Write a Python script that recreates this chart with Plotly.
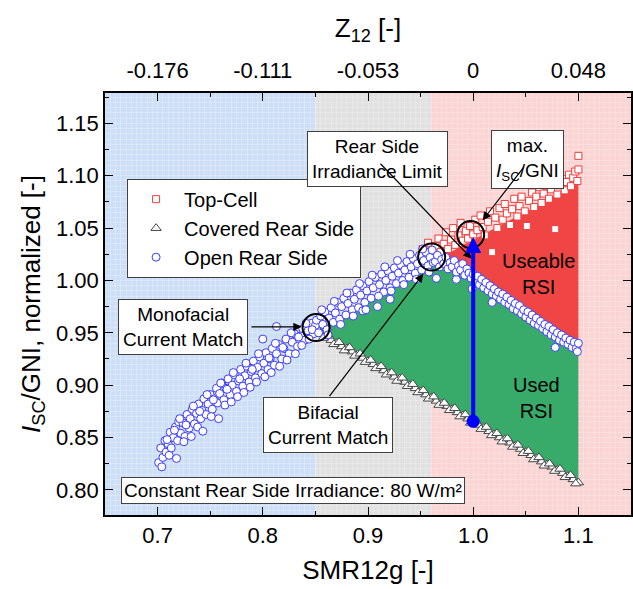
import plotly.graph_objects as go

# ---------------- data ----------------
# Open Rear Side (blue circles)
open_x = [0.701,0.703,0.705,0.707,0.708,0.710,0.712,0.713,0.715,0.717,0.719,0.720,0.722,0.724,0.726,0.728,0.730,0.731,0.733,0.735,
          0.737,0.739,0.741,0.742,0.744,0.746,0.748,0.750,0.752,0.754,0.756,0.757,0.759,0.761,0.763,0.765,0.767,0.769,0.771,0.773,
          0.775,0.777,0.779,0.781,0.783,0.785,0.787,0.789,0.791,0.793,0.795,0.797,0.799,0.801,0.803,0.805,0.807,0.809,0.811,0.813,
          0.815,0.818,0.820,0.822,0.825,0.828,0.830,0.833,0.836,0.838,0.840,0.843,0.846,0.848,0.850,0.813,0.800,
          0.704,0.709,0.711,0.716,0.718,0.721,0.725,0.727,0.732,0.734,0.738,0.740,0.743,0.747,0.751,0.753,0.758,0.760,0.764,0.766,
          0.770,0.772,0.776,0.778,0.782,0.784,0.788,0.790,0.794,0.796,0.802,0.806,0.808,0.812,0.816,0.819,0.823,0.827,0.831,0.834,
          0.837,0.841,0.844,0.847,
          0.851,0.853,0.855,0.857,0.859,0.861,0.863,0.865,0.867,0.869,0.871,0.873,0.875,0.877,0.879,0.881,0.883,0.885,0.887,0.889,
          0.891,0.893,0.895,0.897,0.899,0.901,0.903,0.905,0.907,0.909,0.911,0.913,0.915,0.917,0.919,0.921,0.923,0.925,0.927,0.929,
          0.931,0.933,0.935,0.937,0.939,0.941,0.943,0.945,0.947,0.949,0.951,0.953,0.955,0.957,0.959,0.961,0.962,0.921,0.895,0.965,0.984,
          0.856,0.862,0.868,0.874,0.880,0.886,0.892,0.898,0.904,0.910,0.916,0.922,0.928,0.934,0.940,0.946,0.952,0.958,
          0.964,0.966,0.968,0.970,0.972,0.974,0.976,0.978,0.980,0.982,0.984,0.986,0.988,0.990,0.992,0.994,0.996,0.998,1.000,1.002,
          1.004,1.006,1.008,1.010,1.012,1.014,1.016,1.018,1.020,1.022,1.024,1.026,1.028,1.030,1.032,1.034,1.036,1.038,1.040,1.042,
          1.044,1.046,1.048,1.050,1.052,1.054,1.056,1.058,1.060,1.062,1.064,1.066,1.068,1.070,1.072,1.074,1.076,1.078,1.080,1.082,
          1.084,1.086,1.088,1.090,1.092,1.094,1.096,1.098,1.100,1.099,1.018,1.078,0.999]
open_y = [0.826,0.840,0.831,0.847,0.836,0.844,0.855,0.840,0.850,0.860,0.847,0.865,0.854,0.864,0.851,0.872,0.859,0.868,0.877,0.863,
          0.873,0.882,0.868,0.876,0.887,0.872,0.882,0.891,0.877,0.887,0.897,0.883,0.892,0.902,0.886,0.897,0.906,0.891,0.900,0.910,
          0.894,0.904,0.915,0.899,0.909,0.918,0.903,0.913,0.923,0.907,0.917,0.927,0.911,0.921,0.931,0.915,0.925,0.935,0.919,0.930,
          0.939,0.925,0.935,0.944,0.930,0.941,0.949,0.937,0.947,0.954,0.943,0.952,0.959,0.949,0.957,0.956,0.944,
          0.822,0.848,0.833,0.857,0.830,0.868,0.846,0.862,0.851,0.880,0.860,0.875,0.856,0.891,0.870,0.886,0.868,0.902,0.881,0.896,
          0.884,0.912,0.889,0.906,0.893,0.921,0.898,0.915,0.903,0.930,0.908,0.926,0.912,0.940,0.918,0.936,0.924,0.950,0.930,0.946,
          0.938,0.959,0.944,0.953,
          0.962,0.950,0.966,0.958,0.970,0.953,0.964,0.974,0.960,0.969,0.979,0.963,0.975,0.983,0.967,0.978,0.988,0.972,0.982,0.991,
          0.974,0.986,0.995,0.979,0.990,0.999,0.983,0.993,1.003,0.975,0.996,1.006,0.989,1.000,1.009,0.993,1.004,1.012,0.997,1.007,
          1.015,1.000,1.010,1.018,1.003,1.013,1.021,1.007,1.016,1.024,1.010,1.019,1.027,1.014,1.022,1.029,1.017,0.982,0.971,1.002,1.001,
          0.972,0.948,0.980,0.958,0.988,0.966,0.997,0.972,1.005,0.985,1.013,0.990,1.019,0.996,1.025,1.001,1.030,1.008,
          1.018,1.024,1.013,1.020,1.016,1.022,1.011,1.017,1.013,1.019,1.008,1.014,1.010,1.016,1.005,1.011,1.007,1.002,1.006,0.999,
          1.004,0.996,1.001,0.993,0.998,0.990,0.995,0.987,0.992,0.985,0.989,0.982,0.987,0.979,0.984,0.977,0.981,0.973,0.978,0.971,
          0.976,0.968,0.972,0.965,0.970,0.962,0.967,0.959,0.964,0.957,0.961,0.954,0.958,0.951,0.956,0.948,0.953,0.946,0.950,0.943,
          0.948,0.941,0.945,0.939,0.943,0.936,0.941,0.935,0.940,0.932,0.979,0.936,0.992]

# Covered Rear Side (triangles)
cov_x = [0.850,0.855,0.860,0.865,0.870,0.875,0.880,0.885,0.890,0.895,0.900,0.905,0.910,0.915,0.920,0.925,0.930,0.935,0.940,0.945,
         0.950,0.955,0.960,0.965,0.970,0.975,0.980,0.985,0.990,0.995,1.000,1.005,1.010,1.015,1.020,1.025,1.030,1.035,1.040,1.045,
         1.050,1.055,1.060,1.065,1.070,1.075,1.080,1.085,1.090,1.095,1.100,
         0.8525,0.8575,0.8625,0.8675,0.8725,0.8775,0.8825,0.8875,0.8925,0.8975,0.9025,0.9075,0.9125,0.9175,0.9225,0.9275,0.9325,
         0.9375,0.9425,0.9475,0.9525,0.9575,0.9625,0.9675,0.9725,0.9775,0.9825,0.9875,0.9925,0.9975,1.0025,1.0075,1.0125,1.0175,
         1.0225,1.0275,1.0325,1.0375,1.0425,1.0475,1.0525,1.0575,1.0625,1.0675,1.0725,1.0775,1.0825,1.0875,1.0925,1.0975]
cov_y = [0.952,0.949,0.946,0.943,0.940,0.937,0.935,0.932,0.929,0.926,0.923,0.920,0.917,0.914,0.911,0.908,0.906,0.903,0.900,0.897,
         0.894,0.891,0.888,0.885,0.882,0.880,0.877,0.874,0.871,0.868,0.865,0.862,0.859,0.856,0.853,0.850,0.848,0.845,0.842,0.839,
         0.836,0.833,0.830,0.827,0.824,0.822,0.819,0.816,0.813,0.810,0.807,
         0.953,0.945,0.947,0.939,0.941,0.933,0.936,0.928,0.930,0.922,0.924,0.916,0.918,0.910,0.912,0.904,0.907,
         0.899,0.901,0.893,0.895,0.887,0.889,0.881,0.883,0.876,0.878,0.870,0.872,0.864,0.866,0.858,0.860,0.852,
         0.854,0.846,0.849,0.841,0.843,0.835,0.837,0.829,0.831,0.823,0.825,0.818,0.820,0.812,0.814,0.806]

# Top-Cell (squares)
top_x = [0.952,0.955,0.957,0.960,0.962,0.964,0.967,0.969,0.972,0.974,0.976,0.979,0.981,0.983,0.986,0.988,0.990,0.993,0.995,0.997,
         1.000,1.002,1.004,1.007,1.009,1.011,1.014,1.016,1.018,1.021,1.023,1.025,1.028,1.030,1.032,1.035,1.037,1.039,1.042,1.044,
         1.046,1.049,1.051,1.053,1.056,1.058,1.060,1.063,1.065,1.067,1.070,1.072,1.074,1.077,1.078,1.080,1.082,1.085,1.087,1.089,
         1.091,1.093,1.095,1.097,1.099,1.100,1.100]
top_y = [1.030,1.024,1.036,1.028,1.022,1.033,1.040,1.027,1.035,1.046,1.030,1.039,1.050,1.034,1.043,1.055,1.038,1.047,1.040,1.052,
         1.044,1.058,1.048,1.062,1.051,1.043,1.056,1.066,1.027,1.060,1.050,1.069,1.058,1.073,1.064,1.053,1.068,1.078,1.061,1.071,
         1.080,1.066,1.052,1.076,1.084,1.070,1.080,1.089,1.074,1.083,1.090,1.078,1.087,1.093,1.049,1.082,1.091,1.097,1.086,1.094,
         1.101,1.090,1.098,1.104,1.095,1.119,1.106]

# Region boundaries (filled areas)
green_top_x = [0.85, 0.87, 0.90, 0.93, 0.96, 0.98, 1.00, 1.03, 1.06, 1.10]
green_top_y = [0.953, 0.963, 0.982, 0.998, 1.014, 1.008, 0.999, 0.982, 0.961, 0.935]
green_bot_x = [1.10, 0.85]
green_bot_y = [0.807, 0.952]
red_top_x = [0.962, 1.10]
red_top_y = [1.018, 1.093]
red_bot_x = [1.10, 1.06, 1.03, 1.00, 0.98, 0.962]
red_bot_y = [0.935, 0.961, 0.982, 0.999, 1.008, 1.014]

# highlight circles and blue arrow
hl_x = [0.8506, 0.9605, 0.9976]
hl_y = [0.955, 1.0223, 1.0438]
arrow_x = 1.0
arrow_y0 = 0.8655
arrow_y1 = 1.0415

# pointer arrows: (tail x, tail y, head x, head y)
pointers = [
    (0.9105, 1.1129, 0.9986, 1.0207),   # Rear Side Irradiance Limit
    (1.0492, 1.1097, 1.0090, 1.0575),   # max. Isc/GNI
    (0.8623, 0.8880, 0.9526, 1.0063),   # Bifacial Current Match
    (0.7878, 0.9557, 0.8370, 0.9557),   # Monofacial Current Match
]

# background regions (SMR12g)
region_edges = [0.65, 0.85, 0.96, 1.15]
region_colors = ['#cddff6', '#e1e1e1', '#fbd4d4']

# top axis
z_pos = [0.7, 0.8, 0.9, 1.0, 1.1]
z_text = ['-0.176', '-0.111', '-0.053', '0', '0.048']

XR = [0.65, 1.15]
YR = [0.776, 1.179]
FONT = 'Liberation Sans, Arial, sans-serif'

fig = go.Figure()

fig.add_trace(go.Scatter(x=green_top_x + green_bot_x, y=green_top_y + green_bot_y, fill='toself',
                         fillcolor='#38ab6a', mode='lines', line=dict(width=0), showlegend=False, hoverinfo='skip'))
fig.add_trace(go.Scatter(x=red_top_x + red_bot_x, y=red_top_y + red_bot_y, fill='toself',
                         fillcolor='#f04545', mode='lines', line=dict(width=0), showlegend=False, hoverinfo='skip'))

fig.add_trace(go.Scatter(x=top_x, y=top_y, mode='markers', name='Top-Cell',
                         marker=dict(symbol='square', size=7, color='white', line=dict(color='#f03c3c', width=1))))
fig.add_trace(go.Scatter(x=cov_x, y=cov_y, mode='markers', name='Covered Rear Side',
                         marker=dict(symbol='triangle-up', size=9, color='white', line=dict(color='#454545', width=1))))
fig.add_trace(go.Scatter(x=open_x, y=open_y, mode='markers', name='Open Rear Side',
                         marker=dict(symbol='circle', size=8, color='white', line=dict(color='#3a3aff', width=1))))

fig.add_trace(go.Scatter(x=hl_x, y=hl_y, mode='markers', showlegend=False, hoverinfo='skip',
                         marker=dict(symbol='circle-open', size=27, color='black', line=dict(color='black', width=2))))
fig.add_trace(go.Scatter(x=[arrow_x], y=[arrow_y0], mode='markers', showlegend=False, hoverinfo='skip',
                         marker=dict(symbol='circle', size=13, color='#0000ff')))

# dummy traces for overlay axes
fig.add_trace(go.Scatter(x=[None], y=[None], xaxis='x2', yaxis='y', showlegend=False, hoverinfo='skip'))
fig.add_trace(go.Scatter(x=[None], y=[None], xaxis='x3', yaxis='y3', showlegend=False, hoverinfo='skip'))

shapes = []
for i in range(3):
    shapes.append(dict(type='rect', xref='x', yref='y', x0=region_edges[i], x1=region_edges[i + 1],
                       y0=0.7, y1=1.25, fillcolor=region_colors[i], line=dict(width=0), layer='below'))
shapes.append(dict(type='line', xref='x', yref='paper', x0=1.0, x1=1.0, y0=0, y1=1,
                   line=dict(color='black', width=1.5, dash='dashdot'), layer='between'))

box = dict(font=dict(family=FONT, size=19, color='black'), bgcolor='white', bordercolor='#404040',
           borderwidth=1, borderpad=4, showarrow=False, xref='x', yref='y')
ann = [
    dict(text='Rear Side<br>Irradiance Limit', x=0.909, y=1.116, **box),
    dict(text='max.<br><i>I</i><sub>SC</sub>/GNI', x=1.0516, y=1.1158, **box),
    dict(text='Monofacial<br>Current Match', x=0.7237, y=0.9557, **box),
    dict(text='Bifacial<br>Current Match', x=0.862, y=0.8624, **box),
    dict(text='Constant Rear Side Irradiance: 80 W/m²', x=0.8287, y=0.7995, **{**box, 'borderpad': 2}),
    dict(text='Useable<br>RSI', x=1.062, y=1.0063, showarrow=False, xref='x', yref='y',
         font=dict(family=FONT, size=20, color='black')),
    dict(text='Used<br>RSI', x=1.0597, y=0.888, showarrow=False, xref='x', yref='y',
         font=dict(family=FONT, size=20, color='black')),
]
arr = dict(text='', showarrow=True, xref='x', yref='y', axref='x', ayref='y',
           arrowhead=2, arrowsize=1.4, arrowwidth=1.2, arrowcolor='black')
for (x0, y0, x1, y1) in pointers:
    ann.append(dict(x=x1, y=y1, ax=x0, ay=y0, **arr))
ann.append(dict(x=arrow_x, y=arrow_y1, ax=arrow_x, ay=arrow_y0, text='', showarrow=True, xref='x', yref='y',
                axref='x', ayref='y', arrowhead=2, arrowsize=0.8, arrowwidth=4, arrowcolor='#0000ff'))

axis_common = dict(showline=True, linecolor='black', linewidth=1.5, mirror='ticks', ticks='inside',
                   tickcolor='black', tickwidth=1.2, ticklen=8, showgrid=False, zeroline=False, automargin=False)

fig.update_layout(
    width=633, height=589,
    margin=dict(l=105, r=2, t=93, b=74, autoexpand=False),
    paper_bgcolor='white', plot_bgcolor='white',
    font=dict(family=FONT, size=22, color='black'),
    showlegend=True,
    legend=dict(x=0.042, y=0.797, xanchor='left', yanchor='top', bgcolor='white', bordercolor='#404040',
                borderwidth=1, font=dict(family=FONT, size=20), itemwidth=46, tracegroupgap=0),
    xaxis=dict(range=XR, tick0=0.7, dtick=0.1, tickformat='.1f',
               minor=dict(tick0=0.65, dtick=0.05, ticks='inside', ticklen=4, tickcolor='black', showgrid=False),
               title=dict(text='SMR12g [-]', font=dict(size=26), standoff=14), **axis_common),
    xaxis2=dict(overlaying='x', side='top', range=XR, tickvals=z_pos, ticktext=z_text, ticks='',
                showgrid=False, zeroline=False, showline=False, automargin=False, ticklabelstandoff=10,
                title=dict(text='Z<sub>12</sub> [-]', font=dict(size=26), standoff=12)),
    xaxis3=dict(overlaying='x', range=XR, dtick=0.005, showgrid=True, gridcolor='rgba(255,255,255,0.22)',
                gridwidth=1, showticklabels=False, ticks='', zeroline=False, showline=False, automargin=False),
    yaxis=dict(range=YR, tick0=0.8, dtick=0.05, tickformat='.2f',
               minor=dict(tick0=0.8, dtick=0.025, ticks='inside', ticklen=4, tickcolor='black', showgrid=False),
               title=dict(text='<i>I</i><sub>SC</sub>/GNI, normalized [-]', font=dict(size=26), standoff=8),
               **axis_common),
    yaxis3=dict(overlaying='y', range=YR, dtick=0.005, showgrid=True, gridcolor='rgba(255,255,255,0.22)',
                gridwidth=1, showticklabels=False, ticks='', zeroline=False, showline=False, automargin=False),
    shapes=shapes,
    annotations=ann,
)

fig.write_html('out.html', config={'displayModeBar': False},
               post_script="document.body.style.margin='0';document.body.style.overflow='hidden';")
